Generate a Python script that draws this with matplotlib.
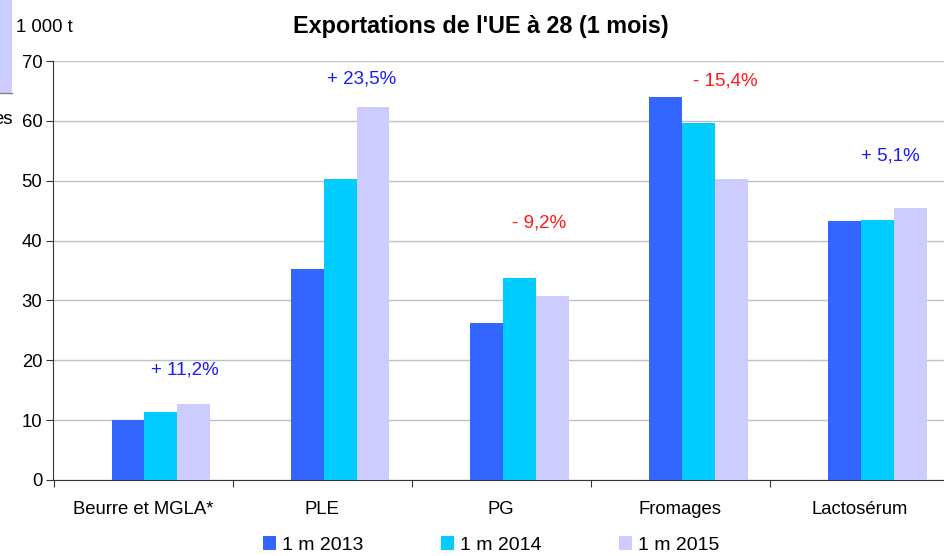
import numpy as np
import matplotlib.pyplot as plt
from matplotlib.patches import Rectangle

plt.rcParams['font.family'] = ['Liberation Sans', 'DejaVu Sans']

categories = ["Beurre et MGLA*", "PLE", "PG", "Fromages", "Lactosérum"]
series_names = ["1 m 2013", "1 m 2014", "1 m 2015"]
v2013 = [10.0, 35.2, 26.3, 64.0, 43.2]
v2014 = [11.3, 50.3, 33.8, 59.7, 43.5]
v2015 = [12.7, 62.3, 30.8, 50.3, 45.5]
changes = ["+ 11,2%", "+ 23,5%", "- 9,2%", "- 15,4%", "+ 5,1%"]
change_y = [18.3, 67.0, 43.0, 66.7, 54.2]
colors = ["#3366FF", "#00CCFF", "#CCCCFF"]

fig = plt.figure(figsize=(9.45, 5.56), dpi=100)
ax = fig.add_axes([53.5 / 945, 76 / 556, 895.5 / 945, 419 / 556])

x = np.arange(len(categories))
w = 0.184
off = 0.1
for k, vals in enumerate([v2013, v2014, v2015]):
    ax.bar(x + off + (k - 1) * w, vals, width=w, color=colors[k],
           label=series_names[k], zorder=3)

# labels sit a little to the right of each group
label_dx = [0.235, 0.22, 0.21, 0.25, 0.17]
for i, txt in enumerate(changes):
    col = "#1A1AFF" if txt.startswith("+") else "#FF1A1A"
    ax.text(x[i] + label_dx[i], change_y[i], txt, color=col, fontsize=13.5,
            ha="center", va="center")

ax.set_xlim(-0.5, 4.5)
ax.set_ylim(0, 70)
ax.set_yticks(range(0, 71, 10))
ax.yaxis.grid(True, color="#C0C0C0", linewidth=1, zorder=0)
ax.set_axisbelow(True)
ax.set_xticks(np.arange(-0.5, 4.6, 1))
ax.set_xticklabels([])
ax.set_xticks(x, minor=True)
ax.set_xticklabels(categories, minor=True, fontsize=13.3)
ax.tick_params(axis="x", which="minor", length=0, pad=15)
ax.tick_params(axis="x", which="major", length=5, direction="out", color="#333333")
ax.tick_params(axis="y", length=5, direction="out", color="#333333", labelsize=13.3, pad=3)
for s in ["top", "right"]:
    ax.spines[s].set_visible(False)
ax.spines["left"].set_color("#333333")
ax.spines["bottom"].set_color("#333333")

fig.text(481 / 945, 1 - 26 / 556, "Exportations de l'UE à 28 (1 mois)",
         fontsize=16.8, fontweight="bold", ha="center", va="center")

# bits of neighbouring elements cut off at the left edge
fig.patches.append(Rectangle((0, 1 - 93 / 556), 12 / 945, 93 / 556,
                             transform=fig.transFigure, facecolor="#CCCCFF",
                             edgecolor="none"))
fig.lines.append(plt.Line2D([0, 12 / 945], [1 - 93 / 556, 1 - 93 / 556],
                            transform=fig.transFigure, color="#808080", linewidth=1))
fig.text(16 / 945, 1 - 28 / 556, "1 000 t", fontsize=13.3, ha="left", va="center")
fig.text(13 / 945, 1 - 120 / 556, "es", fontsize=13.3, ha="right", va="center")

ax.legend(loc="center", bbox_to_anchor=(491 / 945, 11 / 556),
          bbox_transform=fig.transFigure, ncol=3, frameon=False, fontsize=14,
          handlelength=0.7, handleheight=0.7, handletextpad=0.3,
          columnspacing=3.97, borderpad=0, borderaxespad=0)

fig.savefig("out.png", dpi=100)
